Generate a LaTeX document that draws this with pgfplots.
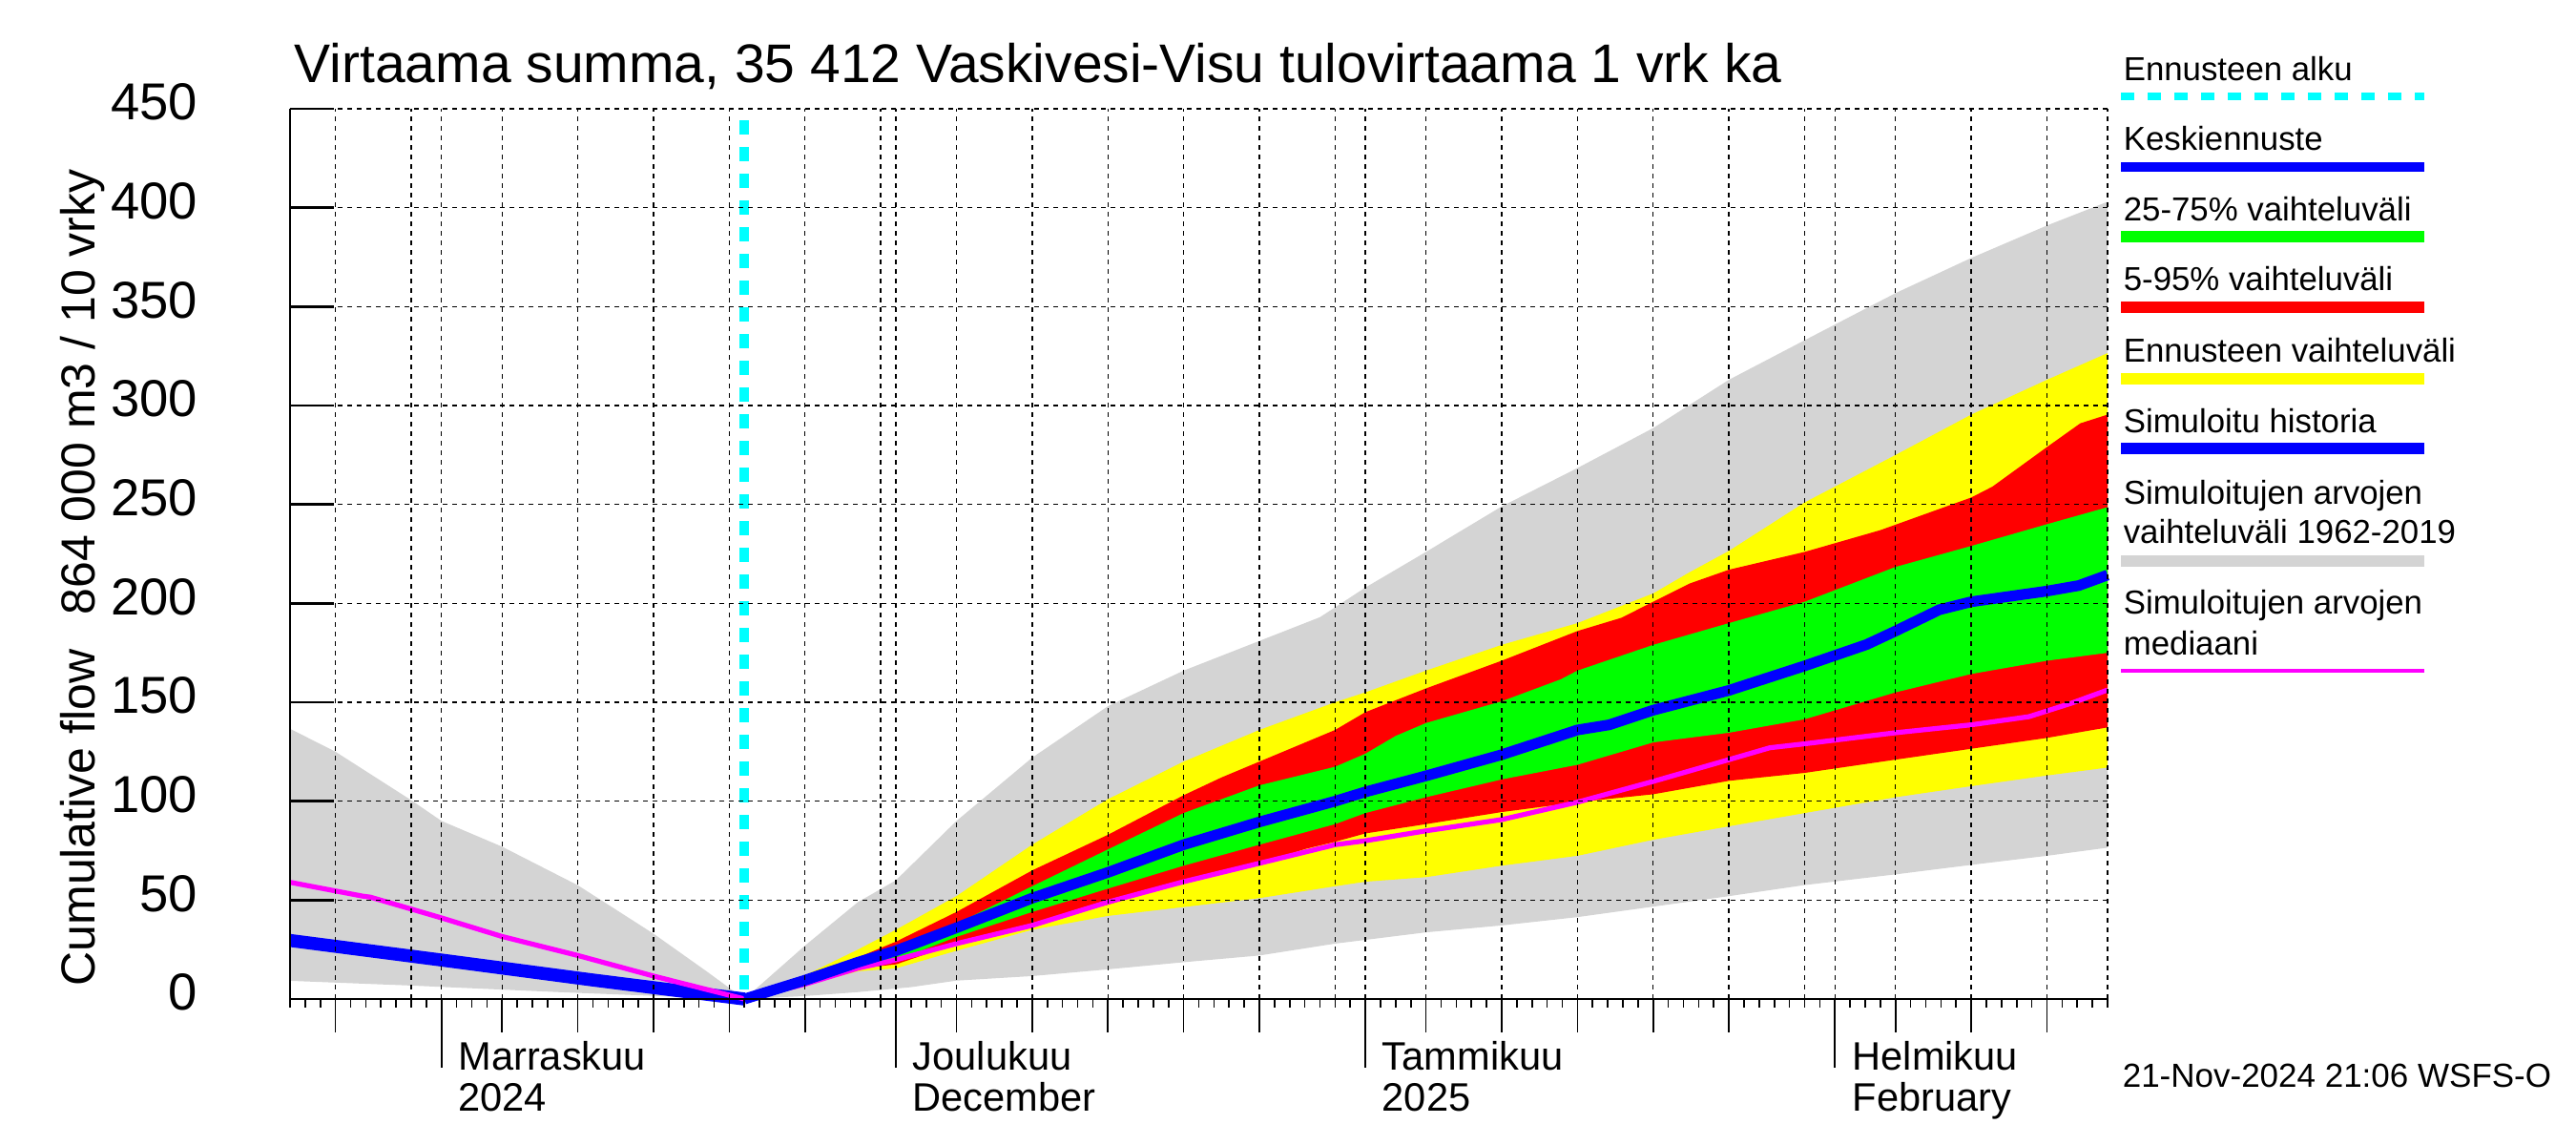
\documentclass[border=0pt]{standalone}
\usepackage{fontspec}
\setmainfont{Liberation Sans}
\usepackage{pgfplots}
\pgfplotsset{compat=1.18}
\usepgfplotslibrary{fillbetween}

\definecolor{simgray}{RGB}{212,212,212}
\definecolor{fyellow}{RGB}{255,255,0}
\definecolor{fred}{RGB}{255,0,0}
\definecolor{fgreen}{RGB}{0,255,0}
\definecolor{fblue}{RGB}{0,0,255}
\definecolor{fmag}{RGB}{255,0,255}
\definecolor{fcyan}{RGB}{0,255,255}

% days counted from 1 Nov 2024 (day 20 = forecast start 21 Nov)
\begin{document}
\begin{tikzpicture}[x=1pt,y=1pt]
\path (0,0) rectangle (675,300);

\begin{axis}[
  at={(76pt,38.25pt)}, anchor=south west,
  scale only axis, width=476.25pt, height=233.25pt,
  xmin=-10, xmax=110, ymin=0, ymax=450,
  axis x line*=bottom, axis y line*=left,
  axis line style={line width=0.65pt},
  axis on top,
  clip=false,
  ytick={0,50,...,450},
  ytick style={draw=none},
  yticklabel style={font=\fontsize{13.6}{13.6}\selectfont, anchor=east, inner sep=0pt, xshift=-15.25pt, yshift=1.75pt},
  /pgf/number format/assume math mode=true,
  xtick={-7,4,9,14,19,24,34,39,44,49,54,65,70,75,80,85,96,101,106},
  xticklabels={},
  minor xtick={-10,...,110},
  tick align=outside,
  major tick length=8.75pt,
  minor tick length=2.25pt,
  tick style={black, line width=0.4pt},
  extra x ticks={0,30,61,92},
  extra x tick labels={},
  extra x tick style={major tick length=18pt, grid=major},
  xmajorgrids, ymajorgrids,
  grid style={black, line width=0.35pt, dash pattern=on 1.25pt off 1.25pt},
]

% simulated range 1962-2019
\addplot[draw=none, name path=gmax] coordinates {
 (-10,136.6) (-7,125) (-2,100.5) (0,90) (4,77) (9,57.5) (14,33) (17.5,14) (20,0)
 (24,27) (27.5,49) (30,60) (34,90) (39,122) (44,148) (49,166) (54,181) (58,193)
 (61,208) (65,226) (70,249) (75,268.4) (80,288.6) (85,313) (90,333) (96,356.8)
 (101,374.6) (106,391) (110,403)};
\addplot[draw=none, name path=gmin] coordinates {
 (-10,9.2) (-2,6.8) (8,3.4) (16,1) (20,0) (24,1.5) (27.5,3.5) (31,6) (34,9.3)
 (39,11.6) (44,15) (49,18.6) (54,22) (59,28) (65,33.7) (70,37.2) (75,41.4)
 (80,46.7) (85,52) (90,57.6) (96,63) (101,67.8) (106,72.4) (110,76.5)};
\addplot[simgray] fill between[of=gmax and gmin];

% forecast range
\addplot[draw=none, name path=yup] coordinates {
 (20,0) (24,12) (27.5,25) (30,35) (34,52) (39,78) (44,101) (49,120) (54,136)
 (59,150) (61,155) (65,166) (70,179) (75,190) (80,205) (82.4,215.7) (85,226.5)
 (90,251) (96,275) (101,295.4) (106,313) (110,326.5)};
\addplot[draw=none, name path=ylo] coordinates {
 (20,0) (24,7) (27.5,14) (30,15.5) (34,24.4) (39,35) (44,42) (49,46.5) (54,51)
 (59,57) (61,59.3) (65,61.6) (70,67.4) (75,72.4) (80,80.5) (85,87.3) (90,94)
 (96,102) (101,107.6) (106,113) (110,117)};
\addplot[fyellow] fill between[of=yup and ylo];

% 5-95 %
\addplot[draw=none, name path=rup] coordinates {
 (20,0) (24,11) (27.5,21) (30,29) (34,44) (39,65) (44,83) (49,103) (51.5,112)
 (54,120) (59,136) (61,145) (65,157) (70,171) (75,186) (77.9,192.7) (80,200.8)
 (82.4,210) (85,217) (90,226) (95,237) (101,253.5) (102.4,259) (106,279)
 (108.2,291) (110,295.4)};
\addplot[draw=none, name path=rlo] coordinates {
 (20,0) (24,8.5) (27.5,15.5) (30,17.5) (34,28) (39,38.4) (44,47.7) (49,59.3)
 (54,68.6) (57.1,76) (59,79.5) (61,83.7) (65,88.4) (70,94.5) (75,99.5) (80,103.5)
 (85,110.3) (90,114.3) (96,121) (101,126.5) (106,132) (110,137.3)};
\addplot[fred] fill between[of=rup and rlo];

% 25-75 %
\addplot[draw=none, name path=gup] coordinates {
 (20,0) (24,10) (27.5,20) (30,26) (34,38) (39,57) (44,75.6) (49,94) (54,108)
 (59,117.4) (61,124) (63,133) (65,139.5) (70,150.5) (73.9,161.6) (75,166)
 (80,179) (85,190) (90,200.8) (96,218.4) (101,229) (106,240) (110,248.6)};
\addplot[draw=none, name path=glo] coordinates {
 (20,0) (24,9) (27.5,16) (30,19.5) (34,31.4) (39,44) (44,55.8) (49,67.4) (54,78)
 (59,88.4) (61,94) (65,102) (70,111) (75,118.4) (80,129.7) (85,134.6) (90,141.4)
 (96,155) (101,164.3) (106,171) (110,175)};
\addplot[fgreen] fill between[of=gup and glo];

% simulated history
\addplot[fblue, line width=3.4pt] coordinates {
 (-10,29.6) (0,19.7) (10,9.6) (20,0)};

% median of simulated values
\addplot[fmag, line width=1.3pt] coordinates {
 (-10,59) (-5.2,52) (-4.7,51.5) (0,41) (4,31.6) (9,22) (14,11.6) (20,0)
 (24,7.5) (27.5,15.6) (30,19.8) (34,28) (39,37.2) (44,49) (49,59.3) (54,68.6)
 (59,78) (61,80) (65,85) (70,90.7) (75,99.5) (80,110) (85,121) (87.7,127)
 (90,129) (96,134.6) (101,138.6) (104.8,142.7) (107.6,149.5) (110,156.2)};

% mean forecast
\addplot[fblue, line width=2.8pt] coordinates {
 (20,0) (24,9.5) (27.5,18.6) (30,24.4) (34,36) (39,51) (44,64) (49,78) (54,89.5)
 (59,100) (61,104.7) (65,112.8) (70,123.5) (75,136) (77.1,138.6) (80,146)
 (85,156) (90,168.4) (94.1,179.2) (96,186) (98.9,196.8) (101,200.8) (106,206.2)
 (108.1,209) (110,214.3)};

% forecast start
\addplot[fcyan, line width=2.5pt, dash pattern=on 3.75pt off 3.25pt] coordinates {
 (20,444) (20,0)};

% grid at month ends and right edge
\pgfplotsinvokeforeach{-2,29,59,90,110}{
  \draw[black, line width=0.35pt, dash pattern=on 1.25pt off 1.25pt]
    (axis cs:#1,0) -- (axis cs:#1,450);
}
% inward y ticks
\pgfplotsinvokeforeach{0,50,...,450}{
  \draw[black, line width=0.6pt] (axis cs:-10,#1) -- ([xshift=11.5pt]axis cs:-10,#1);
}
\end{axis}

% title and axis labels
\node[anchor=base west, inner sep=0, font=\fontsize{14.25}{14.25}\selectfont]
  at (77,278.25) {Virtaama summa, 35 412 Vaskivesi-Visu tulovirtaama 1 vrk ka};
\node[rotate=90, anchor=base, inner sep=0, font=\fontsize{12.5}{12.5}\selectfont]
  at (24.75,85.75) {Cumulative flow};
\node[rotate=90, anchor=base, inner sep=0, font=\fontsize{12.5}{12.5}\selectfont]
  at (24.75,197.25) {864 000 m3 / 10 vrky};

% month labels
\begin{scope}[every node/.style={anchor=base west, inner sep=0, font=\fontsize{10.4}{10.4}\selectfont}]
\node at (119.9,19.75) {Marraskuu};
\node at (119.9,9) {2024};
\node at (239,19.75) {Joulukuu};
\node at (239,9) {December};
\node at (362,19.75) {Tammikuu};
\node at (362,9) {2025};
\node at (485.2,19.75) {Helmikuu};
\node at (485.2,9) {February};
\end{scope}

\node[anchor=base west, inner sep=0, font=\fontsize{8.75}{8.75}\selectfont]
  at (556,15.25) {21-Nov-2024 21:06 WSFS-O};

% legend
\begin{scope}[every node/.style={anchor=base west, inner sep=0, font=\fontsize{8.7}{8.7}\selectfont}]
\node at (556.25,278.75) {Ennusteen alku};
\draw[fcyan, line width=2.15pt, dash pattern=on 3.5pt off 3.5pt] (555.75,274.75) -- (635.25,274.75);
\node at (556.25,260.5) {Keskiennuste};
\draw[fblue, line width=2.4pt] (555.75,256.25) -- (635.25,256.25);
\node at (556.25,242) {25-75\% vaihteluväli};
\draw[fgreen, line width=3pt] (555.75,238) -- (635.25,238);
\node at (556.25,223.75) {5-95\% vaihteluväli};
\draw[fred, line width=3pt] (555.75,219.5) -- (635.25,219.5);
\node at (556.25,205) {Ennusteen vaihteluväli};
\draw[fyellow, line width=3pt] (555.75,200.75) -- (635.25,200.75);
\node at (556.25,186.5) {Simuloitu historia};
\draw[fblue, line width=3pt] (555.75,182.5) -- (635.25,182.5);
\node at (556.25,167.75) {Simuloitujen arvojen};
\node at (556.25,157.5) {vaihteluväli 1962-2019};
\draw[simgray, line width=3pt] (555.75,153) -- (635.25,153);
\node at (556.25,139) {Simuloitujen arvojen};
\node at (556.25,128.25) {mediaani};
\draw[fmag, line width=1.2pt] (555.75,124.25) -- (635.25,124.25);
\end{scope}
\end{tikzpicture}
\end{document}
